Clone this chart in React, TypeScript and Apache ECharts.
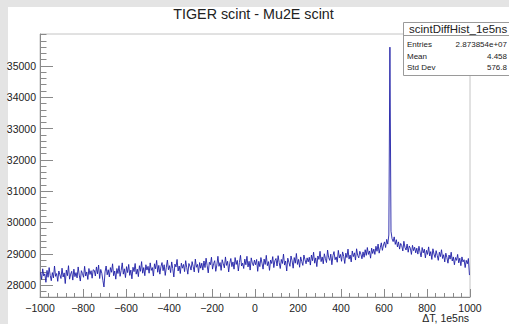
import React, { useEffect, useRef } from "react";
import * as echarts from "echarts";

// Histogram binning along ΔT (units of 1e5 ns)
const binStart = -1000;
const binWidth = 5;

// Bin contents, in consecutive blocks of 250 ΔT units
const countsA = [
  28410, 28180, 28520, 28290, 28360, 28090, 28470, 28250, 28560, 28310,
  28140, 28400, 28230, 28610, 28280, 28370, 28120, 28450, 28330, 28210,
  28540, 28260, 28390, 28050, 28480, 28300, 28620, 28190, 28350, 28440,
  28160, 28510, 28270, 28400, 28230, 28580, 28320, 28130, 28460, 28370,
  28250, 28600, 28290, 28420, 28180, 28530, 28340, 28460, 28220, 28490,
];
const countsB = [
  28470, 28290, 28580, 28360, 28640, 28210, 28500, 28380, 28150, 27940,
  28420, 28610, 28330, 28490, 28260, 28560, 28410, 28680, 28300, 28450,
  28190, 28530, 28370, 28620, 28280, 28470, 28710, 28350, 28520, 28240,
  28590, 28400, 28660, 28310, 28480, 28200, 28570, 28430, 28690, 28350,
  28510, 28270, 28620, 28440, 28750, 28380, 28560, 28300, 28650, 28480,
];
const countsC = [
  28600, 28380, 28710, 28470, 28560, 28290, 28680, 28520, 28790, 28410,
  28630, 28350, 28590, 28720, 28460, 28650, 28310, 28570, 28800, 28490,
  28620, 28400, 28740, 28530, 28260, 28670, 28580, 28820, 28450, 28610,
  28370, 28700, 28540, 28660, 28430, 28780, 28560, 28350, 28690, 28610,
  28480, 28750, 28590, 28420, 28830, 28570, 28660, 28400, 28720, 28540,
];
const countsD = [
  28700, 28480, 28770, 28560, 28860, 28620, 28390, 28730, 28650, 28890,
  28510, 28690, 28780, 28440, 28640, 28920, 28600, 28720, 28470, 28810,
  28680, 28550, 28900, 28630, 28760, 28420, 28700, 28850, 28590, 28740,
  28510, 28880, 28660, 28790, 28450, 28720, 28950, 28610, 28700, 28530,
  28830, 28650, 28920, 28580, 28760, 28480, 28870, 28700, 28620, 28800,
];
const countsE = [
  28650, 28820, 28440, 28760, 28590, 28880, 28700, 28510, 28830, 28660,
  28950, 28620, 28750, 28470, 28800, 28690, 28910, 28560, 28780, 28850,
  28610, 28940, 28720, 28530, 28820, 28690, 28990, 28640, 28770, 28450,
  28860, 28730, 28600, 28930, 28780, 28540, 28880, 28700, 29010, 28660,
  28820, 28570, 28900, 28750, 28630, 28960, 28810, 28680, 28870, 28740,
];
const countsF = [
  28890, 28640, 28960, 28780, 29050, 28700, 28870, 28590, 28930, 28820,
  29080, 28750, 28900, 28680, 29000, 28850, 28720, 29120, 28880, 28790,
  28990, 28650, 28940, 29070, 28810, 28900, 28730, 29110, 28870, 28980,
  28760, 29060, 28920, 28690, 29020, 28880, 29150, 28830, 28960, 28740,
  29090, 28910, 29030, 28800, 29160, 28950, 28870, 29080, 28990, 28840,
];
const countsG = [
  29060, 28890, 29130, 28950, 29200, 28980, 29090, 28860, 29180, 29010,
  29150, 28980, 29240, 29080, 29310, 29020, 29190, 29350, 29110, 29280,
  29380, 29200, 29460, 29310, 29600, 35600, 29720, 29480, 29390, 29540,
  29300, 29450, 29220, 29380, 29150, 29330, 29260, 29090, 29400, 29200,
  29120, 29310, 29050, 29250, 29180, 28980, 29270, 29100, 29210, 29030,
];
const countsH = [
  29180, 28990, 29240, 29060, 28900, 29200, 29030, 29150, 28870, 29110,
  28980, 29220, 28930, 29070, 28820, 29160, 28990, 28880, 29100, 28950,
  28790, 29050, 28910, 29130, 28850, 28970, 28740, 29020, 28880, 28700,
  28960, 28830, 29050, 28770, 28900, 28650, 28880, 28790, 28980, 28710,
  28860, 28620, 28900, 28740, 28810, 28560, 28790, 28680, 28850, 28320,
];

// Axis ticks
const yMajorTicks = [28000, 29000, 30000, 31000, 32000, 33000, 34000, 35000];
const yMinorTicks: number[] = [];
for (let v = 27800; v <= 36000; v += 200) yMinorTicks.push(v);

// Stats box
const statsTitle = "scintDiffHist_1e5ns";
const statsLabels = ["Entries", "Mean", "Std Dev"];
const statsValues = ["2.873854e+07", "4.458", "576.8"];

const FONT = "'Liberation Sans', Arial, Helvetica, sans-serif";

export default function App() {
  const ref = useRef<HTMLDivElement>(null);

  useEffect(() => {
    if (!ref.current) return;
    const chart = echarts.init(ref.current, undefined, { renderer: "svg" });

    const counts = [
      ...countsA, ...countsB, ...countsC, ...countsD,
      ...countsE, ...countsF, ...countsG, ...countsH,
    ];
    const histData = counts.map((c, i) => [binStart + binWidth * (i + 0.5), c]);

    const statsRows: any[] = [];
    const rowY = [44, 56, 67];
    statsLabels.forEach((label, i) => {
      statsRows.push({
        type: "text",
        x: 407,
        y: rowY[i],
        style: { text: label, font: `8px ${FONT}`, fill: "#222", verticalAlign: "middle", align: "left" },
      });
      statsRows.push({
        type: "text",
        x: 507,
        y: rowY[i],
        style: { text: statsValues[i], font: `8px ${FONT}`, fill: "#222", verticalAlign: "middle", align: "right" },
      });
    });

    chart.setOption({
      animation: false,
      backgroundColor: "#ffffff",
      grid: {
        left: 40,
        right: 39,
        top: 34,
        bottom: 27,
        show: true,
        borderColor: "#c4c4c4",
        borderWidth: 1,
        backgroundColor: "transparent",
      },
      xAxis: {
        type: "value",
        min: -1000,
        max: 1000,
        interval: 200,
        axisLine: { show: true, onZero: false, lineStyle: { color: "#8a8a8a", width: 1 } },
        axisTick: { show: true, inside: true, length: 8, lineStyle: { color: "#8a8a8a" } },
        minorTick: { show: true, splitNumber: 5, length: 4, lineStyle: { color: "#8a8a8a" } },
        splitLine: { show: false },
        minorSplitLine: { show: false },
        axisLabel: {
          color: "#222",
          fontFamily: FONT,
          fontSize: 10.5,
          margin: 5,
          formatter: (v: number) => String(v).replace("-", "\u2212"),
        },
      },
      yAxis: [
        {
          type: "value",
          min: 27620,
          max: 36020,
          position: "left",
          axisLine: { show: true, onZero: false, lineStyle: { color: "#8a8a8a", width: 1 } },
          axisTick: {
            show: true,
            inside: true,
            length: 13,
            customValues: yMajorTicks,
            lineStyle: { color: "#8a8a8a" },
          },
          splitLine: { show: false },
          axisLabel: {
            customValues: yMajorTicks,
            color: "#222",
            fontFamily: FONT,
            fontSize: 10.5,
            margin: 4,
            formatter: (v: number) => String(v),
          },
        },
        {
          type: "value",
          min: 27620,
          max: 36020,
          position: "left",
          offset: 0,
          axisLine: { show: false, onZero: false },
          axisTick: {
            show: true,
            inside: true,
            length: 6.5,
            customValues: yMinorTicks,
            lineStyle: { color: "#8a8a8a" },
          },
          splitLine: { show: false },
          axisLabel: { show: false },
        },
      ],
      series: [
        {
          type: "line",
          data: histData,
          showSymbol: false,
          symbol: "none",
          lineStyle: { color: "#1e1ea6", width: 0.9 },
          itemStyle: { color: "#1e1ea6" },
        },
      ],
      graphic: [
        { type: "rect", shape: { x: 0, y: 0, width: 509, height: 7 }, style: { fill: "#e4e4e4" } },
        { type: "rect", shape: { x: 0, y: 0, width: 8, height: 324 }, style: { fill: "#e4e4e4" } },
        {
          type: "text",
          x: 253.5,
          y: 14,
          style: {
            text: "TIGER scint - Mu2E scint",
            font: `14.3px ${FONT}`,
            fill: "#222",
            align: "center",
            verticalAlign: "middle",
          },
        },
        {
          type: "text",
          x: 469,
          y: 318,
          style: {
            text: "ΔT, 1e5ns",
            font: `10.5px ${FONT}`,
            fill: "#222",
            align: "right",
            verticalAlign: "middle",
          },
        },
        {
          type: "rect",
          shape: { x: 403.5, y: 22.5, width: 120, height: 53 },
          style: { fill: "#ffffff", stroke: "#9a9a9a", lineWidth: 1 },
        },
        {
          type: "line",
          shape: { x1: 403.5, y1: 35.5, x2: 509, y2: 35.5 },
          style: { stroke: "#9a9a9a", lineWidth: 1 },
        },
        {
          type: "text",
          x: 409,
          y: 28.5,
          style: {
            text: statsTitle,
            font: `11.5px ${FONT}`,
            fill: "#222",
            align: "left",
            verticalAlign: "middle",
          },
        },
        ...statsRows,
      ],
    });

    return () => chart.dispose();
  }, []);

  return (
    <div
      ref={ref}
      style={{ position: "fixed", left: 0, top: 0, width: 509, height: 324 }}
    />
  );
}
